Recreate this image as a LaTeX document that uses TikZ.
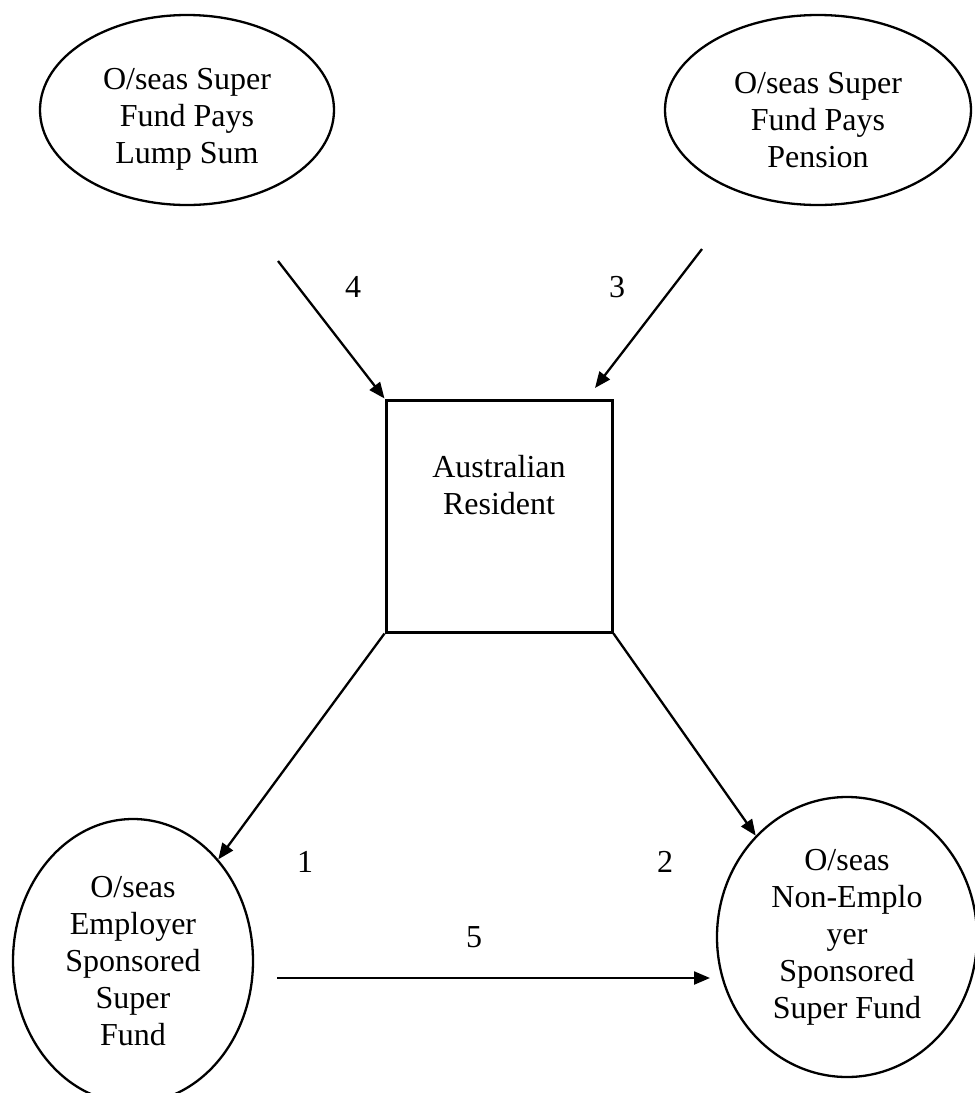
\documentclass[tikz,border=0pt]{standalone}
\usepackage{fontspec}
\setmainfont{Liberation Serif}
\usetikzlibrary{arrows.meta,shapes.geometric}
\tikzset{
  lbl/.style={font=\fontsize{32}{37}\selectfont, align=center, inner sep=0pt},
  oval/.style={ellipse, draw=black, line width=2.3pt, inner sep=0pt, font=\fontsize{32}{37}\selectfont, align=center},
  boxnode/.style={rectangle, draw=black, line width=3pt, inner sep=0pt, minimum width=226pt, minimum height=232pt},
  conn/.style={line width=2.3pt, -{Triangle[length=16pt,width=13pt]}}
}
\begin{document}
\begin{tikzpicture}[x=1pt,y=-1pt]
\clip (0,0) rectangle (975,1093);
\fill[white] (0,0) rectangle (975,1093);
% nodes
\node[oval, minimum width=294pt, minimum height=190pt] (tl) at (187,110) {};
\node[lbl] (tltext) at (187,119) {O/seas Super\\Fund Pays\\Lump Sum};
\node[oval, minimum width=306pt, minimum height=190pt] (tr) at (818,110) {};
\node[lbl] (trtext) at (818,120) {O/seas Super\\Fund Pays\\Pension};
\node[boxnode] (sq) at (499,516) {};
\node[lbl] (sqtext) at (499,485) {Australian\\Resident};
\node[oval, minimum width=240pt, minimum height=284pt] (bl) at (133,961) {O/seas\\Employer\\Sponsored\\Super\\Fund};
\node[oval, minimum width=260pt, minimum height=280pt] (br) at (847,937) {O/seas\\Non-Emplo\\yer\\Sponsored\\Super Fund};
% free ends
\coordinate (a4s) at (278,261);
\coordinate (a3s) at (702,249);
\coordinate (a3e) at (595,388);
\coordinate (a5s) at (277,978);
\coordinate (a5e) at (710,978);
% connectors
\draw[conn] (a4s) -- (sq.north west);
\draw[conn] (a3s) -- (a3e);
\draw[conn] (sq.south west) -- (bl.50.5);
\draw[conn] (sq.south east) -- (br.132);
\draw[conn] (a5s) -- (a5e);
% labels
\node[lbl] (n4) at (353,287) {4};
\node[lbl] (n3) at (617,287) {3};
\node[lbl] (n1) at (305,862) {1};
\node[lbl] (n2) at (665,862) {2};
\node[lbl] (n5) at (474,937) {5};
\end{tikzpicture}
\end{document}
